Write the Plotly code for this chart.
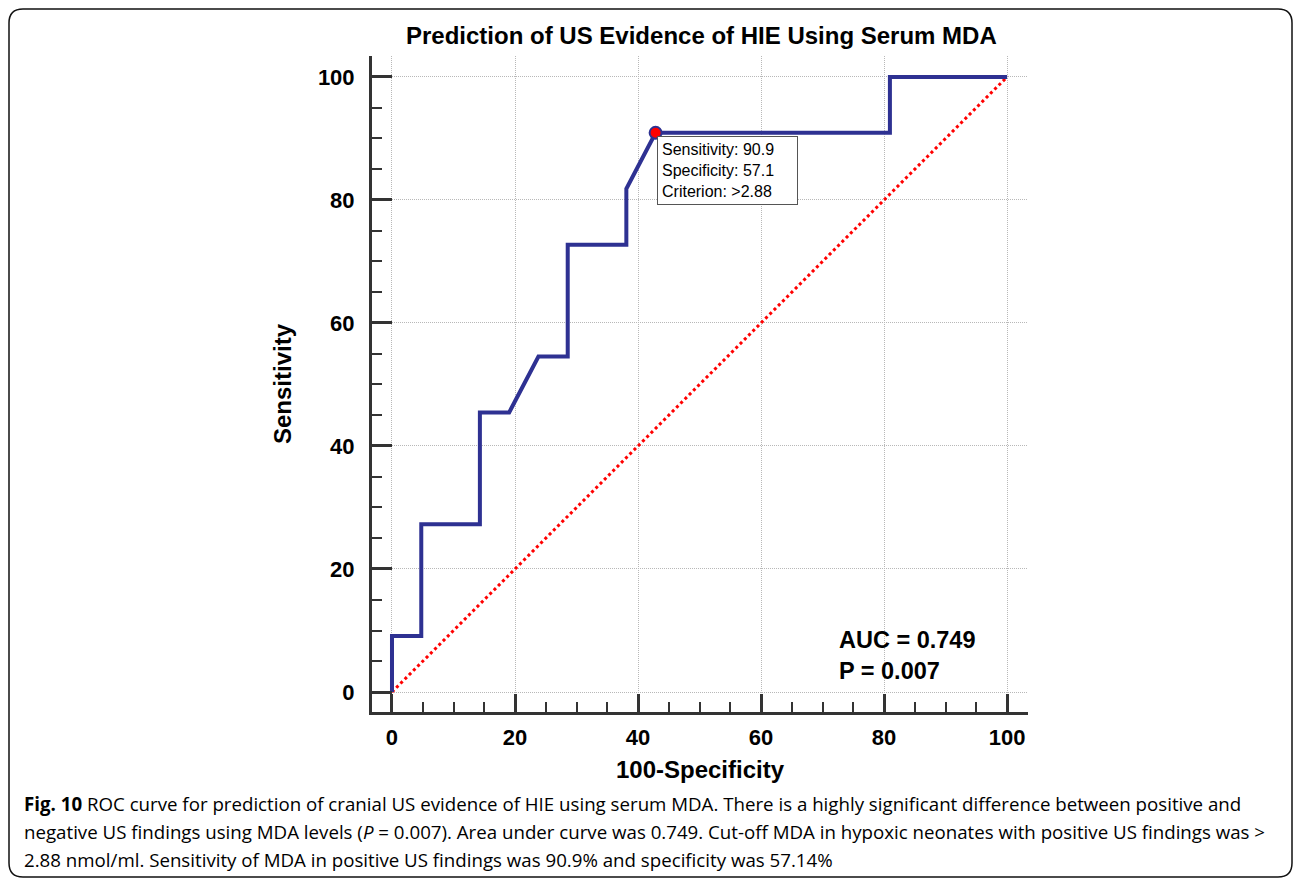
import plotly.graph_objects as go

# ---- data ----
fpr = [0, 0, 4.76, 4.76, 14.29, 14.29, 19.05, 23.81, 28.57, 28.57, 38.10, 38.10, 42.86, 80.95, 80.95, 100]
sens = [0, 9.09, 9.09, 27.27, 27.27, 45.45, 45.45, 54.55, 54.55, 72.73, 72.73, 81.82, 90.91, 90.91, 100, 100]
diag_x = [0, 100]
diag_y = [0, 100]
cut_x = [42.86]
cut_y = [90.91]
cut_text = "Sensitivity: 90.9<br>Specificity: 57.1<br>Criterion: >2.88"
stats_text = "AUC = 0.749<br>P = 0.007"
title_text = "Prediction of US Evidence of HIE Using Serum MDA"
x_title = "100-Specificity"
y_title = "Sensitivity"
caption_lines = [
    "<b>Fig. 10</b> ROC curve for prediction of cranial US evidence of HIE using serum MDA. There is a highly significant difference between positive and",
    "negative US findings using MDA levels (<i>P</i> = 0.007). Area under curve was 0.749. Cut-off MDA in hypoxic neonates with positive US findings was >",
    "2.88 nmol/ml. Sensitivity of MDA in positive US findings was 90.9% and specificity was 57.14%",
]

W, H = 1295, 879
L, R, T, B = 372, 1028, 56, 712  # plot area pixels
PW, PH = R - L, B - T

def px(xp):
    return (xp - L) / PW

def py(yp):
    return (B - yp) / PH

BOLD = "Liberation Sans, Arial, sans-serif"
AXC = "#333333"

fig = go.Figure()
fig.add_trace(go.Scatter(x=diag_x, y=diag_y, mode="lines",
                         line=dict(color="#ff0000", width=3, dash="dot"),
                         hoverinfo="skip", showlegend=False))
fig.add_trace(go.Scatter(x=fpr, y=sens, mode="lines",
                         line=dict(color="#2e3192", width=4),
                         showlegend=False))
fig.add_trace(go.Scatter(x=cut_x, y=cut_y, mode="markers",
                         marker=dict(color="#ff0000", size=12,
                                     line=dict(color="#2e3192", width=2)),
                         showlegend=False))

axis_common = dict(
    showline=True, linecolor=AXC, linewidth=3, mirror=False,
    ticks="inside", tickcolor=AXC, tickwidth=2.5,
    tick0=0, dtick=20,
    showgrid=True, gridcolor="#b8b8b8", griddash="1px,1px", gridwidth=1,
    zeroline=False,
    tickfont=dict(family=BOLD, size=22, color="#000000", weight="bold"),
    minor=dict(ticks="inside", dtick=5, tick0=0, ticklen=10,
               tickcolor=AXC, tickwidth=2, showgrid=False),
)

fig.update_xaxes(range=[-3.25, 103.4], ticklen=18, ticklabelstandoff=4,
                 title=dict(text=x_title, standoff=12,
                            font=dict(family=BOLD, size=24, color="#000", weight="bold")),
                 **axis_common)
fig.update_yaxes(range=[-3.25, 103.4], ticklen=20, ticklabelstandoff=10,
                 title=dict(text=y_title, standoff=20,
                            font=dict(family=BOLD, size=24, color="#000", weight="bold")),
                 **axis_common)

annotations = [
    dict(x=cut_x[0], y=cut_y[0], xref="x", yref="y", text=cut_text,
         xanchor="left", yanchor="top", xshift=1, yshift=-3, align="left",
         width=131, showarrow=False, bgcolor="white", bordercolor="#555555", borderwidth=1,
         borderpad=4, font=dict(family="Liberation Sans, Arial", size=16, color="#000")),
    dict(x=px(837), y=py(655), xref="paper", yref="paper", text=stats_text,
         xanchor="left", yanchor="middle", align="left", showarrow=False,
         font=dict(family=BOLD, size=23.5, color="#000", weight="bold")),
    dict(x=px(701), y=py(36), xref="paper", yref="paper", text=title_text,
         xanchor="center", yanchor="middle", showarrow=False,
         font=dict(family=BOLD, size=24, color="#000", weight="bold")),
]
for i, line in enumerate(caption_lines):
    annotations.append(dict(x=px(22), y=py(803 + 28 * i), xref="paper", yref="paper",
                            text=line, xanchor="left", yanchor="middle", align="left",
                            showarrow=False,
                            font=dict(family="Open Sans, sans-serif", size=18.7, color="#000")))

# rounded frame
x0, y0, x1, y1, r = px(9), py(9), px(1292), py(877), 14 / PW
ry = 14 / PH
path = (f"M {x0+r},{y0} L {x1-r},{y0} Q {x1},{y0} {x1},{y0-ry} "
        f"L {x1},{y1+ry} Q {x1},{y1} {x1-r},{y1} L {x0+r},{y1} Q {x0},{y1} {x0},{y1+ry} "
        f"L {x0},{y0-ry} Q {x0},{y0} {x0+r},{y0} Z")
shapes = [dict(type="path", path=path, xref="paper", yref="paper",
               line=dict(color="#111111", width=1.5), layer="below")]

fig.update_layout(
    width=W, height=H,
    margin=dict(l=L, r=W - R, t=T, b=H - B, pad=0),
    paper_bgcolor="white", plot_bgcolor="white",
    annotations=annotations, shapes=shapes,
    showlegend=False,
)

fig.write_html("out.html")
